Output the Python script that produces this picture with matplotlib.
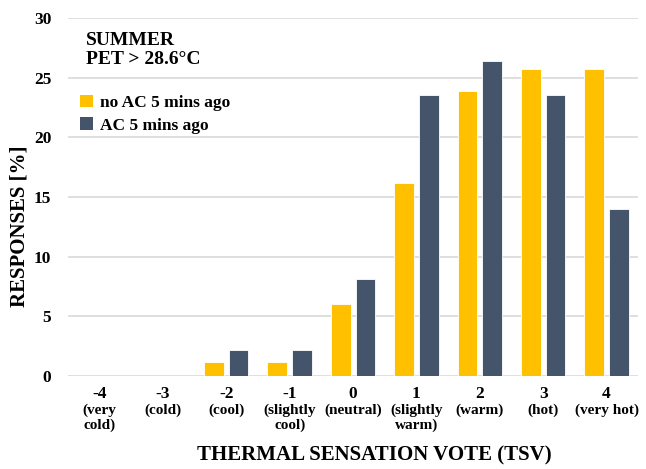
import matplotlib
matplotlib.use('Agg')
import matplotlib.pyplot as plt
from matplotlib.patches import Patch
import numpy as np

plt.rcParams['font.family'] = ['Liberation Serif', 'DejaVu Serif']
plt.rcParams['font.weight'] = 'bold'

tsv_values = ['-4', '-3', '-2', '-1', '0', '1', '2', '3', '4']
tsv_names = ['(very\ncold)', '(cold)', '(cool)', '(slightly\ncool)', '(neutral)',
             '(slightly\nwarm)', '(warm)', '(hot)', '(very hot)']
no_ac = [0, 0, 1.2, 1.2, 6.0, 16.2, 23.9, 25.7, 25.7]
ac = [0, 0, 2.2, 2.2, 8.1, 23.5, 26.4, 23.5, 14.0]

yellow = '#FFC000'
slate = '#44546A'

fig = plt.figure(figsize=(6.46, 4.69), dpi=100)
ax = fig.add_axes([0.105, 0.198, 0.883, 0.764])

x = np.arange(len(tsv_values))
w = 0.31
ax.bar(x - 0.195, no_ac, w, color=yellow, edgecolor='white', linewidth=0.6, zorder=3)
ax.bar(x + 0.195, ac, w, color=slate, edgecolor='white', linewidth=0.6, zorder=3)

ax.set_xlim(-0.5, len(tsv_values) - 0.5)
ax.set_ylim(0, 30)
ax.set_yticks(range(0, 31, 5))
ax.grid(axis='y', color='#d9d9d9', linewidth=1.2, zorder=0)
for s in ax.spines.values():
    s.set_visible(False)
ax.tick_params(axis='both', length=0, labelsize=12.5)
ax.tick_params(axis='y', pad=12)
ax.set_xticks(x)
ax.set_xticklabels(tsv_values, fontweight='bold')
ax.tick_params(axis='x', pad=7)
for lab in ax.get_yticklabels():
    lab.set_fontweight('bold')

# category descriptions under the vote numbers
trans = ax.get_xaxis_transform()
for xi, name in zip(x, tsv_names):
    ax.text(xi, -0.076, name, transform=trans, ha='center', va='top',
            fontsize=11, fontweight='bold', linespacing=1.2)

fig.text(374 / 646, 1 - 455 / 469, 'THERMAL SENSATION VOTE (TSV)', ha='center', va='center',
         fontsize=15, fontweight='bold')
fig.text(20 / 646, 1 - 226 / 469, 'RESPONSES [%]', ha='center', va='center', rotation=90,
         fontsize=15, fontweight='bold')

fig.text(86 / 646, 1 - 50 / 469, 'SUMMER\nPET > 28.6°C', ha='left', va='center',
         fontsize=14, fontweight='bold', linespacing=1.1)

handles = [Patch(facecolor=yellow, label='no AC 5 mins ago'),
           Patch(facecolor=slate, label='AC 5 mins ago')]
ax.legend(handles=handles, loc='upper left', bbox_to_anchor=(64 / 646, 1 - 79 / 469),
          bbox_transform=fig.transFigure, frameon=False,
          handlelength=0.75, handleheight=0.75, handletextpad=0.45, labelspacing=0.35,
          prop={'weight': 'bold', 'size': 12.5})

fig.savefig('out.png', dpi=100)
